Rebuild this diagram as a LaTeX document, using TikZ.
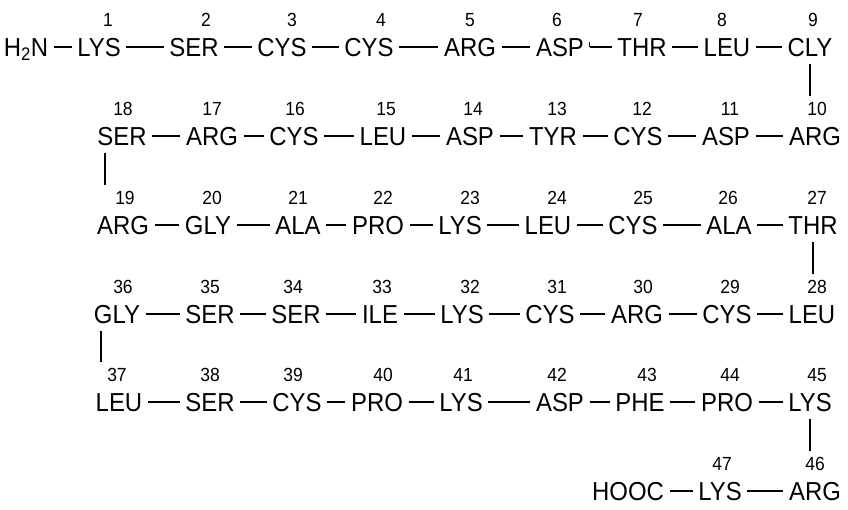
\documentclass[tikz,border=0pt]{standalone}
\usepackage{fontspec}
\setmainfont{Liberation Sans}[FakeStretch=0.92]
\begin{document}
\begin{tikzpicture}[x=1pt,y=-1pt,
  res/.style={font=\fontsize{26}{26}\selectfont, text height=19pt, text depth=0pt, inner xsep=5.5pt, inner ysep=0pt},
  num/.style={font=\fontsize{19}{19}\selectfont, inner sep=0pt},
  bond/.style={line width=1.6pt},
  link/.style={line width=1.6pt, shorten <=7pt, shorten >=6pt}]
\useasboundingbox (0,0) rectangle (848,509);
% row 1
\node[res] (h2n) at (26,47) {H\textsubscript{2}N};
\node[res] (t1) at (99,47) {LYS}; \node[num] (n1) at (108,20) {1};
\node[res] (t2) at (194,47) {SER}; \node[num] (n2) at (206,20) {2};
\node[res] (t3) at (282,47) {CYS}; \node[num] (n3) at (292,20) {3};
\node[res] (t4) at (369,47) {CYS}; \node[num] (n4) at (381,20) {4};
\node[res] (t5) at (470,47) {ARG}; \node[num] (n5) at (470,20) {5};
\node[res] (t6) at (560,47) {ASP}; \node[num] (n6) at (557,20) {6};
\node[res] (t7) at (642,47) {THR}; \node[num] (n7) at (638,20) {7};
\node[res] (t8) at (727,47) {LEU}; \node[num] (n8) at (722,20) {8};
\node[res] (t9) at (810,47) {CLY}; \node[num] (n9) at (813,20) {9};
% row 2
\node[res] (t18) at (122,136) {SER}; \node[num] (n18) at (123,109) {18};
\node[res] (t17) at (212,136) {ARG}; \node[num] (n17) at (212,109) {17};
\node[res] (t16) at (294,136) {CYS}; \node[num] (n16) at (295,109) {16};
\node[res] (t15) at (383,136) {LEU}; \node[num] (n15) at (386,109) {15};
\node[res] (t14) at (470,136) {ASP}; \node[num] (n14) at (473,109) {14};
\node[res] (t13) at (553,136) {TYR}; \node[num] (n13) at (557,109) {13};
\node[res] (t12) at (638,136) {CYS}; \node[num] (n12) at (642,109) {12};
\node[res] (t11) at (726,136) {ASP}; \node[num] (n11) at (730,109) {11};
\node[res] (t10) at (815,136) {ARG}; \node[num] (n10) at (817,109) {10};
% row 3
\node[res] (t19) at (123,225) {ARG}; \node[num] (n19) at (125,198) {19};
\node[res] (t20) at (208,225) {GLY}; \node[num] (n20) at (212,198) {20};
\node[res] (t21) at (298,225) {ALA}; \node[num] (n21) at (298,198) {21};
\node[res] (t22) at (378,225) {PRO}; \node[num] (n22) at (383,198) {22};
\node[res] (t23) at (460,225) {LYS}; \node[num] (n23) at (470,198) {23};
\node[res] (t24) at (548,225) {LEU}; \node[num] (n24) at (557,198) {24};
\node[res] (t25) at (633,225) {CYS}; \node[num] (n25) at (643,198) {25};
\node[res] (t26) at (729,225) {ALA}; \node[num] (n26) at (728,198) {26};
\node[res] (t27) at (813,225) {THR}; \node[num] (n27) at (817,198) {27};
% row 4
\node[res] (t36) at (117,314) {GLY}; \node[num] (n36) at (123,287) {36};
\node[res] (t35) at (210,314) {SER}; \node[num] (n35) at (210,287) {35};
\node[res] (t34) at (296,314) {SER}; \node[num] (n34) at (293,287) {34};
\node[res] (t33) at (380,314) {ILE}; \node[num] (n33) at (382,287) {33};
\node[res] (t32) at (462,314) {LYS}; \node[num] (n32) at (470,287) {32};
\node[res] (t31) at (550,314) {CYS}; \node[num] (n31) at (557,287) {31};
\node[res] (t30) at (637,314) {ARG}; \node[num] (n30) at (643,287) {30};
\node[res] (t29) at (727,314) {CYS}; \node[num] (n29) at (730,287) {29};
\node[res] (t28) at (812,314) {LEU}; \node[num] (n28) at (817,287) {28};
% row 5
\node[res] (t37) at (119,402) {LEU}; \node[num] (n37) at (117,375) {37};
\node[res] (t38) at (210,402) {SER}; \node[num] (n38) at (210,375) {38};
\node[res] (t39) at (297,402) {CYS}; \node[num] (n39) at (293,375) {39};
\node[res] (t40) at (377,402) {PRO}; \node[num] (n40) at (383,375) {40};
\node[res] (t41) at (461,402) {LYS}; \node[num] (n41) at (463,375) {41};
\node[res] (t42) at (560,402) {ASP}; \node[num] (n42) at (557,375) {42};
\node[res] (t43) at (640,402) {PHE}; \node[num] (n43) at (647,375) {43};
\node[res] (t44) at (727,402) {PRO}; \node[num] (n44) at (730,375) {44};
\node[res] (t45) at (810,402) {LYS}; \node[num] (n45) at (817,375) {45};
% row 6
\node[res] (hooc) at (628,491) {HOOC};
\node[res] (t47) at (720,491) {LYS}; \node[num] (n47) at (722,464) {47};
\node[res] (t46) at (815,491) {ARG}; \node[num] (n46) at (815,464) {46};
% horizontal bonds
\draw[bond] (h2n) -- (t1); \draw[bond] (t1) -- (t2); \draw[bond] (t2) -- (t3);
\draw[bond] (t3) -- (t4); \draw[bond] (t4) -- (t5); \draw[bond] (t5) -- (t6);
\draw[bond] (t6) -- (t7); \draw[bond] (t7) -- (t8); \draw[bond] (t8) -- (t9);
\draw[bond] (t6.east) -- ++(0,-5);
\draw[bond] (t18) -- (t17); \draw[bond] (t17) -- (t16); \draw[bond] (t16) -- (t15);
\draw[bond] (t15) -- (t14); \draw[bond] (t14) -- (t13); \draw[bond] (t13) -- (t12);
\draw[bond] (t12) -- (t11); \draw[bond] (t11) -- (t10);
\draw[bond] (t19) -- (t20); \draw[bond] (t20) -- (t21); \draw[bond] (t21) -- (t22);
\draw[bond] (t22) -- (t23); \draw[bond] (t23) -- (t24); \draw[bond] (t24) -- (t25);
\draw[bond] (t25) -- (t26); \draw[bond] (t26) -- (t27);
\draw[bond] (t36) -- (t35); \draw[bond] (t35) -- (t34); \draw[bond] (t34) -- (t33);
\draw[bond] (t33) -- (t32); \draw[bond] (t32) -- (t31); \draw[bond] (t31) -- (t30);
\draw[bond] (t30) -- (t29); \draw[bond] (t29) -- (t28);
\draw[bond] (t37) -- (t38); \draw[bond] (t38) -- (t39); \draw[bond] (t39) -- (t40);
\draw[bond] (t40) -- (t41); \draw[bond] (t41) -- (t42); \draw[bond] (t42) -- (t43);
\draw[bond] (t43) -- (t44); \draw[bond] (t44) -- (t45);
\draw[bond] (hooc) -- (t47); \draw[bond] (t47) -- (t46);
% vertical bonds
\draw[link] (t9.south) -- (t9.south |- n10.north);
\draw[link] (t27.south) -- (t27.south |- n28.north);
\draw[link] (t45.south) -- (t45.south |- n46.north);
\coordinate (b18) at ([xshift=13pt]t18.south west);
\coordinate (b19) at (b18 |- n19.north);
\draw[link] (b18) -- (b19);
\coordinate (b36) at ([xshift=13pt]t36.south west);
\coordinate (b37) at (b36 |- n37.north);
\draw[link] (b36) -- (b37);
\end{tikzpicture}
\end{document}
